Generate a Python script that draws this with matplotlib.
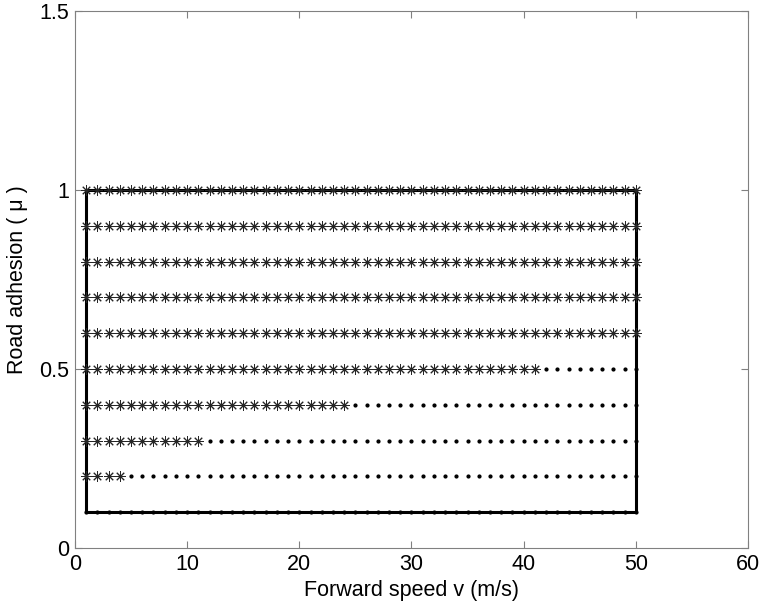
import numpy as np
import matplotlib.pyplot as plt

plt.rcParams['font.family'] = ['Liberation Sans', 'DejaVu Sans']

# grid of simulated operating points
speeds = np.arange(1, 51)                                   # forward speed v (m/s)
mu_levels = [0.1, 0.2, 0.3, 0.4, 0.5, 0.6, 0.7, 0.8, 0.9, 1.0]
# highest speed still stable ('*') for each adhesion level, beyond -> '.'
stable_limit = [0, 4, 11, 24, 41, 50, 50, 50, 50, 50]

# boundary of the tested region
box_x = [1, 50, 50, 1, 1]
box_y = [0.1, 0.1, 1.0, 1.0, 0.1]

fig = plt.figure(figsize=(7.62, 6.09), dpi=100)
ax = fig.add_axes((0.0984, 0.100, 0.8832, 0.882))

ax.plot(box_x, box_y, color='k', lw=2.2, zorder=2)

for mu, lim in zip(mu_levels, stable_limit):
    st = speeds[speeds <= lim]
    un = speeds[speeds > lim]
    if len(st):
        ax.plot(st, np.full(len(st), mu), ls='none', marker=(8, 2, 0),
                ms=7.5, mew=0.7, color='#262626', zorder=3)
    if len(un):
        ax.plot(un, np.full(len(un), mu), ls='none', marker='.',
                ms=4, color='k', zorder=3)

ax.set_xlim(0, 60)
ax.set_ylim(0, 1.5)
ax.set_xticks([0, 10, 20, 30, 40, 50, 60])
ax.set_yticks([0, 0.5, 1, 1.5])
ax.set_yticklabels(['0', '0.5', '1', '1.5'])
ax.tick_params(direction='in', top=True, right=True, labelsize=15.5,
               color='#808080', length=5, pad=4)
for s in ax.spines.values():
    s.set_color('#808080')
    s.set_linewidth(0.8)

ax.set_xlabel('Forward speed v (m/s)', fontsize=15.5, labelpad=4)
ax.set_ylabel('Road adhesion ( \u03bc )', fontsize=15.5, labelpad=8)

plt.savefig('out.png', dpi=100)
plt.close()
